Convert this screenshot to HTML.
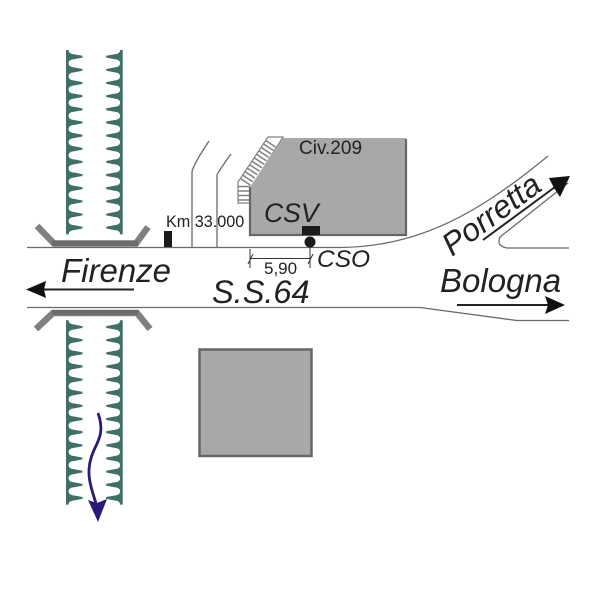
<!DOCTYPE html>
<html><head><meta charset="utf-8"><style>html,body{margin:0;padding:0;background:#fff}svg{display:block}text{font-family:"Liberation Sans",sans-serif;fill:#222}</style></head><body>
<svg width="600" height="600" viewBox="0 0 600 600" xmlns="http://www.w3.org/2000/svg">
<defs>
<path id="t" fill="#3f6f66" d="M0,-6.7H2.600C2.800,-4.5 3.500,-3 8,-2.500L16.500,-.9V.9L8,2.500C3.500,3 2.800,4.500 2.600,6.700H0Z"/>
<g id="rail">
<use href="#t" y="0"/><use href="#t" y="13.15"/><use href="#t" y="26.3"/><use href="#t" y="39.45"/><use href="#t" y="52.6"/><use href="#t" y="65.75"/><use href="#t" y="78.9"/><use href="#t" y="92.05"/><use href="#t" y="105.2"/><use href="#t" y="118.35"/><use href="#t" y="131.5"/><use href="#t" y="144.65"/><use href="#t" y="157.8"/><use href="#t" y="170.95"/>
</g>
</defs>
<use href="#rail" transform="translate(66,56.7)"/>
<use href="#rail" transform="translate(122.7,56.7) scale(-1,1)"/>
<use href="#rail" transform="translate(66,327)"/>
<use href="#rail" transform="translate(122.7,327) scale(-1,1)"/>

<g fill="none" stroke="#6a6a6a" stroke-width="1.3">
<path d="M27,247.500H340C420,247 480,212 548,156"/>
<path d="M27,307.500H420L517,320.500H569"/>
<path d="M569,248H507Q496,246 500,237L568,183"/>
<path d="M192,247V172Q193,165 209,141"/>
<path d="M217,247V175Q218,172 231,154"/>
</g>

<g fill="none" stroke="#808080" stroke-width="6.500">
<path d="M37,226L54,243.500H136L148,227"/>
<path d="M36,329L53,313H137L150,329"/>
</g>
<path d="M52,240.500H138V246H52ZM52,310H138V315H52Z" fill="#6c6c6c"/>

<path d="M268,137H283L252,186V203H238V182Z" fill="#fff" stroke="#808080" stroke-width="1.200"/>
<g stroke="#808080" stroke-width="1.500">
<path d="M238,186.500H250M238,191H250M238,195.500H250M238,200H250"/>
<path d="M265.700,140.500L275.700,147.100M263.400,143.900L273.400,150.500M261.100,147.400L271.100,154M258.800,150.800L268.800,157.400M256.500,154.300L266.500,160.900M254.200,157.800L264.200,164.400M251.900,161.200L261.900,167.800M249.600,164.700L259.600,171.300M247.300,168.100L257.300,174.700M245,171.600L255,178.200M242.700,175.100L252.700,181.700M240.400,178.500L250.400,185.100"/>
</g>
<path d="M283,138H406V235H250V187Z" fill="#a8a8a8"/>
<path d="M406,139V235H250V187" fill="none" stroke="#666" stroke-width="2.200"/>

<rect x="199.500" y="349.500" width="112" height="106.500" fill="#a8a8a8" stroke="#666" stroke-width="2.500"/>

<rect x="164" y="231" width="8" height="16" fill="#1a1a1a"/>
<rect x="302" y="226" width="18" height="9" fill="#1a1a1a"/>
<circle cx="310" cy="242" r="5.500" fill="#1a1a1a"/>

<g stroke="#333" stroke-width="1" fill="none">
<path d="M250,249V268M310,247V268M250,258.500H310"/>
<path d="M248,264L253,254M308,264L313,254"/>
</g>

<text x="299" y="154" font-size="19">Civ.209</text>
<text x="166" y="227" font-size="16.200">Km 33.000</text>
<text x="264" y="274" font-size="17">5,90</text>
<g font-style="italic">
<text x="264" y="222" font-size="26.500">CSV</text>
<text x="317" y="267" font-size="24.500">CSO</text>
<text x="61" y="282" font-size="33">Firenze</text>
<text x="212" y="303" font-size="32.500">S.S.64</text>
<text x="440" y="292" font-size="33">Bologna</text>
<text transform="translate(452,257) rotate(-36.500)" font-size="32">Porretta</text>
</g>

<path d="M134,289.500H44" stroke="#222" stroke-width="2"/>
<path d="M26,289.500L46,281L44,289.500L46,298Z" fill="#111"/>
<path d="M457,305H550" stroke="#222" stroke-width="2"/>
<path d="M565,305L545,296L548,305L545,314Z" fill="#111"/>
<path d="M483,240L555,187" stroke="#222" stroke-width="2"/>
<path d="M570,176L549,178L554,188L560,197Z" fill="#111"/>

<path d="M98,413C104,430 100,438 94,450C86,468 88,480 96,503" fill="none" stroke="#2a1a78" stroke-width="2.800"/>
<path d="M88,500L97,503L107,499L98,522Z" fill="#2a1a78"/>
</svg>
</body></html>
